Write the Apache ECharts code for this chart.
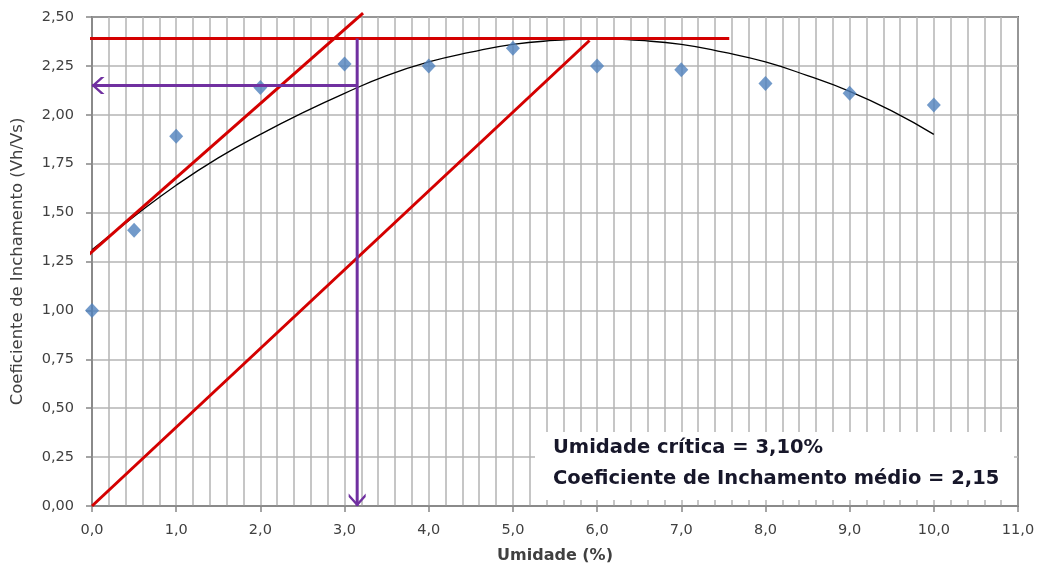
<!DOCTYPE html>
<html>
<head>
<meta charset="utf-8">
<script src="https://cdn.jsdelivr.net/npm/echarts@6/dist/echarts.min.js"></script>
<style>
  html, body { margin: 0; padding: 0; background: #ffffff; }
  #chart { width: 1047px; height: 569px; }
</style>
</head>
<body>
<div id="chart"></div>
<script>
// ---- data ----
const umidade = [0, 0.5, 1, 2, 3, 4, 5, 6, 7, 8, 9, 10];
const coeficiente = [1.00, 1.41, 1.89, 2.14, 2.26, 2.25, 2.34, 2.25, 2.23, 2.16, 2.11, 2.05];

// polynomial trend line
const trendX = [0, 0.5, 1, 1.5, 2, 2.5, 3, 3.5, 4, 4.5, 5, 5.5, 6, 6.5, 7, 7.5, 8, 8.5, 9, 9.5, 10];
const trendY = [1.31, 1.48, 1.64, 1.78, 1.90, 2.01, 2.11, 2.20, 2.27, 2.32, 2.36, 2.38, 2.39, 2.38, 2.36, 2.32, 2.27, 2.20, 2.12, 2.02, 1.90];

// red construction lines
const maxLineX = [-0.2, 7.57];
const maxLineY = [2.39, 2.39];
const tangentX = [-0.21, 3.22];
const tangentY = [1.22, 2.52];
const originLineX = [0, 5.91];
const originLineY = [0, 2.38];

// purple arrows
const verticalArrowX = [3.15, 3.15];
const verticalArrowY = [2.39, 0];
const horizontalArrowX = [3.15, 0];
const horizontalArrowY = [2.15, 2.15];

// tick settings
const yTicks = { min: 0, max: 2.5, interval: 0.25 };
const xTicks = { min: 0, max: 11, interval: 1 };

const annotationLines = ['Umidade crítica = 3,10%', 'Coeficiente de Inchamento médio = 2,15'];
const xAxisTitle = 'Umidade (%)';
const yAxisTitle = 'Coeficiente de Inchamento (Vh/Vs)';

// ---- helpers ----
const zip = (xs, ys) => xs.map((x, i) => [x, ys[i]]);
const red = '#d40000';
const purple = '#7030a0';
const arrowDown = 'path://M0,0 L8,8 L16,0 L16,3 L8,11 L0,3 Z';
const arrowLeft = 'path://M11,0 L3,8 L11,16 L8,16 L0,8 L8,0 Z';
const labelFont = 'DejaVu Sans';

const chart = echarts.init(document.getElementById('chart'), null, { renderer: 'canvas' });

chart.setOption({
  animation: false,
  backgroundColor: '#ffffff',
  grid: {
    left: 92, right: 29, top: 17, bottom: 63,
    show: true, borderColor: '#000000', borderWidth: 1.5, backgroundColor: 'transparent'
  },
  xAxis: {
    type: 'value',
    min: xTicks.min, max: xTicks.max, interval: xTicks.interval,
    name: xAxisTitle,
    nameLocation: 'middle',
    nameGap: 42,
    nameTextStyle: { fontFamily: labelFont, fontSize: 16, fontWeight: 'bold', color: '#404040' },
    axisLine: { show: true, onZero: false, lineStyle: { color: '#868686', width: 1.5 } },
    axisTick: { show: true, inside: false, length: 6, lineStyle: { color: '#868686', width: 1.5 } },
    minorTick: { show: false, splitNumber: 5 },
    axisLabel: {
      margin: 17, fontFamily: labelFont, fontSize: 14.5, color: '#404040',
      formatter: v => v.toFixed(1).replace('.', ',')
    },
    splitLine: { show: true, lineStyle: { color: '#b4b4b4', width: 1.5 } },
    minorSplitLine: { show: true, lineStyle: { color: '#b4b4b4', width: 1.5 } }
  },
  yAxis: {
    type: 'value',
    min: yTicks.min, max: yTicks.max, interval: yTicks.interval,
    name: yAxisTitle,
    nameLocation: 'middle',
    nameGap: 66,
    nameTextStyle: { fontFamily: labelFont, fontSize: 16.5, color: '#404040' },
    axisLine: { show: true, onZero: false, lineStyle: { color: '#868686', width: 1.5 } },
    axisTick: { show: true, inside: false, length: 6, lineStyle: { color: '#868686', width: 1.5 } },
    axisLabel: {
      margin: 18, fontFamily: labelFont, fontSize: 14.5, color: '#404040',
      formatter: v => v.toFixed(2).replace('.', ',')
    },
    splitLine: { show: true, lineStyle: { color: '#b4b4b4', width: 1.5 } }
  },
  graphic: [
    {
      type: 'rect', left: 535, top: 432, z: 50,
      shape: { width: 479, height: 68 },
      style: { fill: '#ffffff' }
    },
    {
      type: 'text', x: 553, y: 448, z: 51,
      style: { text: annotationLines[0], font: 'bold 19.5px "DejaVu Sans"', fill: '#17172a', verticalAlign: 'middle' }
    },
    {
      type: 'text', x: 553, y: 479, z: 51,
      style: { text: annotationLines[1], font: 'bold 19.5px "DejaVu Sans"', fill: '#17172a', verticalAlign: 'middle' }
    }
  ],
  series: [
    {
      name: 'Tendência', type: 'line', smooth: true, showSymbol: false, silent: true, z: 2,
      data: zip(trendX, trendY),
      lineStyle: { color: '#000000', width: 1.3 }
    },
    {
      name: 'Ensaio', type: 'scatter', symbol: 'diamond', symbolSize: [14, 15], z: 3,
      data: zip(umidade, coeficiente),
      itemStyle: { color: '#4f81bd' }
    },
    {
      name: 'Máximo', type: 'line', showSymbol: false, clip: false, z: 4,
      data: zip(maxLineX, maxLineY),
      lineStyle: { color: red, width: 3 }
    },
    {
      name: 'Tangente', type: 'line', showSymbol: false, clip: false, z: 4,
      data: zip(tangentX, tangentY),
      lineStyle: { color: red, width: 3 }
    },
    {
      name: 'Origem', type: 'line', showSymbol: false, clip: false, z: 4,
      data: zip(originLineX, originLineY),
      lineStyle: { color: red, width: 3 }
    },
    {
      name: 'Umidade crítica', type: 'line', clip: false, z: 5,
      showSymbol: true, showAllSymbol: true,
      data: [
        { value: [verticalArrowX[0], verticalArrowY[0]], symbol: 'none' },
        { value: [verticalArrowX[1], verticalArrowY[1]], symbol: arrowDown, symbolSize: [17, 13], symbolOffset: [0, -6] }
      ],
      lineStyle: { color: purple, width: 3 },
      itemStyle: { color: purple }
    },
    {
      name: 'Coeficiente médio', type: 'line', clip: false, z: 5,
      showSymbol: true, showAllSymbol: true,
      data: [
        { value: [horizontalArrowX[0], horizontalArrowY[0]], symbol: 'none' },
        { value: [horizontalArrowX[1], horizontalArrowY[1]], symbol: arrowLeft, symbolSize: [13, 17], symbolOffset: [6, 0] }
      ],
      lineStyle: { color: purple, width: 3 },
      itemStyle: { color: purple }
    }
  ]
});
</script>
</body>
</html>
